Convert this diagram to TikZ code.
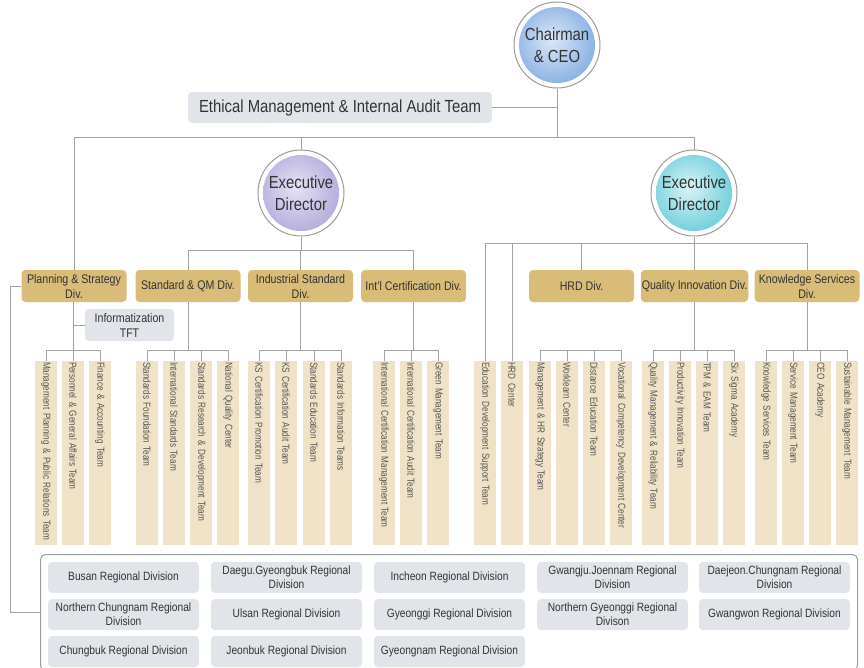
\documentclass[tikz,border=0pt]{standalone}
\usepackage{fontspec}
\setmainfont{Liberation Sans}[FakeStretch=0.85]
\newfontfamily\teamfont{Liberation Sans}[FakeStretch=0.8]
\definecolor{lngray}{HTML}{A3A3A3}
\definecolor{ringgray}{HTML}{9A9A9A}
\definecolor{divgold}{HTML}{D8BC77}
\definecolor{beige}{HTML}{F0E2C6}
\definecolor{boxgray}{HTML}{E1E5EA}
\definecolor{txtdark}{HTML}{333333}
\definecolor{teamtxt}{HTML}{555555}
\definecolor{bluein}{HTML}{DCE8F8}
\definecolor{blueout}{HTML}{4A86D2}
\definecolor{purpin}{HTML}{E6E2F5}
\definecolor{purpout}{HTML}{8E84CA}
\definecolor{cyanin}{HTML}{DAF3F6}
\definecolor{cyanout}{HTML}{22B3C7}
\pgfdeclareradialshading{ceoshade}{\pgfpoint{-4bp}{4bp}}{color(0bp)=(bluein); color(50bp)=(blueout); color(60bp)=(blueout)}
\pgfdeclareradialshading{purpshade}{\pgfpoint{-4bp}{4bp}}{color(0bp)=(purpin); color(50bp)=(purpout); color(60bp)=(purpout)}
\pgfdeclareradialshading{cyanshade}{\pgfpoint{-4bp}{4bp}}{color(0bp)=(cyanin); color(50bp)=(cyanout); color(60bp)=(cyanout)}
\begin{document}
\begin{tikzpicture}[x=1pt,y=-1pt,
  line/.style={draw=lngray, line width=0.9pt},
  ring/.style={circle, draw=ringgray, fill=white, line width=1pt, minimum size=86, inner sep=0pt},
  ball/.style={circle, minimum size=76, inner sep=0pt, align=center, text=txtdark, font=\fontsize{17.5}{22}\selectfont},
  div/.style={fill=divgold, rounded corners=4pt, minimum width=105, minimum height=32, inner sep=1pt, align=center, text=txtdark, font=\fontsize{12.5}{15}\selectfont},
  gbox/.style={fill=boxgray, rounded corners=4pt, align=center, text=txtdark},
  team/.style={rotate=-90, fill=beige, minimum height=22, text width=182, inner xsep=1pt, inner ysep=0pt, align=left, text=teamtxt, font=\teamfont\fontsize{10.2}{11}\selectfont},
  regbox/.style={gbox, minimum width=151, minimum height=31, inner sep=1pt, font=\fontsize{12}{14}\selectfont}
]
\useasboundingbox (0,0) rectangle (864,667);

% top level
\node[ring] (ceo) at (557,45) {};
\node[ball, shading=ceoshade] (ceoin) at (ceo.center) {Chairman\\\& CEO};
\node[gbox, minimum width=304, minimum height=31, inner sep=1pt, font=\fontsize{17.5}{20}\selectfont] (eth) at (340,107.5) {Ethical Management \& Internal Audit Team};

\node[ring] (ld) at (301,193) {};
\node[ball, shading=purpshade] (ldin) at (ld.center) {Executive\\Director};
\node[ring] (rd) at (694,193) {};
\node[ball, shading=cyanshade] (rdin) at (rd.center) {Executive\\Director};

% divisions
\node[div] (plan) at (74,286) {Planning \& Strategy\\Div.};
\node[div] (sqm) at (188,286) {Standard \& QM Div.};
\node[div] (ind) at (300.5,286) {Industrial Standard\\Div.};
\node[div] (intl) at (413.5,286) {Int'l Certification Div.};
\node[div] (hrd) at (581.5,286) {HRD Div.};
\node[div] (qi) at (694.5,286) {Quality Innovation Div.};
\node[div] (ks) at (807,286) {Knowledge Services\\Div.};

\node[gbox, minimum width=89, minimum height=32, inner sep=1pt, font=\fontsize{12.5}{15}\selectfont] (tft) at (129.5,325) {Informatization\\TFT};

% teams
\node[team] (p1) at (46,453) {Management Planning \& Public Relations Team};
\node[team] (p2) at (73,453) {Personnel \& General Affairs Team};
\node[team] (p3) at (100,453) {Finance \& Accounting Team};

\node[team] (s1) at (147,453) {Standards Foundation Team};
\node[team] (s2) at (174,453) {International Standards Team};
\node[team] (s3) at (201,453) {Standards Research \& Development Team};
\node[team] (s4) at (228,453) {National Quality Center};

\node[team] (i1) at (259,453) {KS Certification Promotion Team};
\node[team] (i2) at (286,453) {KS Certification Audit Team};
\node[team] (i3) at (314,453) {Standards Education Team};
\node[team] (i4) at (341,453) {Standards Information Teams};

\node[team] (c1) at (384,453) {International Certification Management Team};
\node[team] (c2) at (411,453) {International Certification Audit Team};
\node[team] (c3) at (438,453) {Green Management Team};

\node[team] (eds) at (485,453) {Education Development Support Team};
\node[team] (hrdc) at (512,453) {HRD Center};

\node[team] (h1) at (540,453) {Management \& HR Strategy Team};
\node[team] (h2) at (567,453) {Worklearn Center};
\node[team] (h3) at (594,453) {Distance Education Team};
\node[team] (h4) at (621,453) {Vocational Competency Development Center};

\node[team] (q1) at (653,453) {Quality Management \& Reliability Team};
\node[team] (q2) at (680,453) {Productivity Innovation Team};
\node[team] (q3) at (707,453) {TPM \& EAM Team};
\node[team] (q4) at (734,453) {Six Sigma Academy};

\node[team] (k1) at (766,453) {Knowledge Services Team};
\node[team] (k2) at (793,453) {Service Management Team};
\node[team] (k3) at (820,453) {CEO Academy};
\node[team] (k4) at (847,453) {Sustainable Management Team};

% regional container
\node[draw=ringgray, line width=1pt, rounded corners=5pt, minimum width=817, minimum height=116, inner sep=0pt, anchor=north west] (reg) at (40,554) {};

\node[regbox] (r11) at (123.5,577.5) {Busan Regional Division};
\node[regbox] (r12) at (286.5,577.5) {Daegu.Gyeongbuk Regional\\Division};
\node[regbox] (r13) at (449.5,577.5) {Incheon Regional Division};
\node[regbox] (r14) at (612.5,577.5) {Gwangju.Joennam Regional\\Division};
\node[regbox] (r15) at (774.5,577.5) {Daejeon.Chungnam Regional\\Division};
\node[regbox] (r21) at (123.5,614.5) {Northern Chungnam Regional\\Division};
\node[regbox] (r22) at (286.5,614.5) {Ulsan Regional Division};
\node[regbox] (r23) at (449.5,614.5) {Gyeonggi Regional Division};
\node[regbox] (r24) at (612.5,614.5) {Northern Gyeonggi Regional\\Divison};
\node[regbox] (r25) at (774.5,614.5) {Gwangwon Regional Division};
\node[regbox] (r31) at (123.5,651.5) {Chungbuk Regional Division};
\node[regbox] (r32) at (286.5,651.5) {Jeonbuk Regional Division};
\node[regbox] (r33) at (449.5,651.5) {Gyeongnam Regional Division};

% connectors: top
\coordinate (topbus) at (557,137);
\draw[line] (ceo.south) -- (topbus);
\draw[line] (eth.east) -- (eth.east -| ceo.south);
\draw[line] (plan.north) -- (plan.north |- topbus) -- (rd.north |- topbus) -- (rd.north);
\draw[line] (ld.north) -- (ld.north |- topbus);

% left executive director
\coordinate (lbus) at (301,250);
\draw[line] (ld.south) -- (lbus);
\draw[line] (sqm.north) -- (sqm.north |- lbus) -- (intl.north |- lbus) -- (intl.north);
\draw[line] (ind.north) -- (ind.north |- lbus);

% right executive director
\coordinate (rbus) at (694,243);
\draw[line] (rd.south) -- (rbus);
\draw[line] (eds.west) -- (eds.west |- rbus) -- (ks.north |- rbus) -- (ks.north);
\draw[line] (hrdc.west) -- (hrdc.west |- rbus);
\draw[line] (hrd.north) -- (hrd.north |- rbus);
\draw[line] (qi.north) -- (qi.north |- rbus);

% team buses
\coordinate (tb) at (0,350);
\draw[line] (p2.west |- plan.south) -- (p2.west);
\draw[line] (p1.west) -- (p1.west |- tb) -- (p3.west |- tb) -- (p3.west);
\draw[line] (tft.west) -- (tft.west -| p2.west);

\draw[line] (sqm.south) -- (sqm.south |- tb);
\draw[line] (s1.west) -- (s1.west |- tb) -- (s4.west |- tb) -- (s4.west);
\draw[line] (s2.west) -- (s2.west |- tb);
\draw[line] (s3.west) -- (s3.west |- tb);

\draw[line] (ind.south) -- (ind.south |- tb);
\draw[line] (i1.west) -- (i1.west |- tb) -- (i4.west |- tb) -- (i4.west);
\draw[line] (i2.west) -- (i2.west |- tb);
\draw[line] (i3.west) -- (i3.west |- tb);

\draw[line] (intl.south) -- (intl.south |- tb);
\draw[line] (c1.west) -- (c1.west |- tb) -- (c3.west |- tb) -- (c3.west);
\draw[line] (c2.west) -- (c2.west |- tb);

\draw[line] (h1.west) -- (h1.west |- tb) -- (h4.west |- tb) -- (h4.west);
\draw[line] (h2.west) -- (h2.west |- tb);
\draw[line] (h3.west) -- (h3.west |- tb);

\draw[line] (qi.south) -- (qi.south |- tb);
\draw[line] (q1.west) -- (q1.west |- tb) -- (q4.west |- tb) -- (q4.west);
\draw[line] (q2.west) -- (q2.west |- tb);
\draw[line] (q3.west) -- (q3.west |- tb);

\draw[line] (ks.south) -- (ks.south |- tb);
\draw[line] (k1.west) -- (k1.west |- tb) -- (k4.west |- tb) -- (k4.west);
\draw[line] (k2.west) -- (k2.west |- tb);
\draw[line] (k3.west) -- (k3.west |- tb);

% regional link
\draw[line] (plan.west) -- ++(-11,0) |- (reg.west);
\end{tikzpicture}
\end{document}
